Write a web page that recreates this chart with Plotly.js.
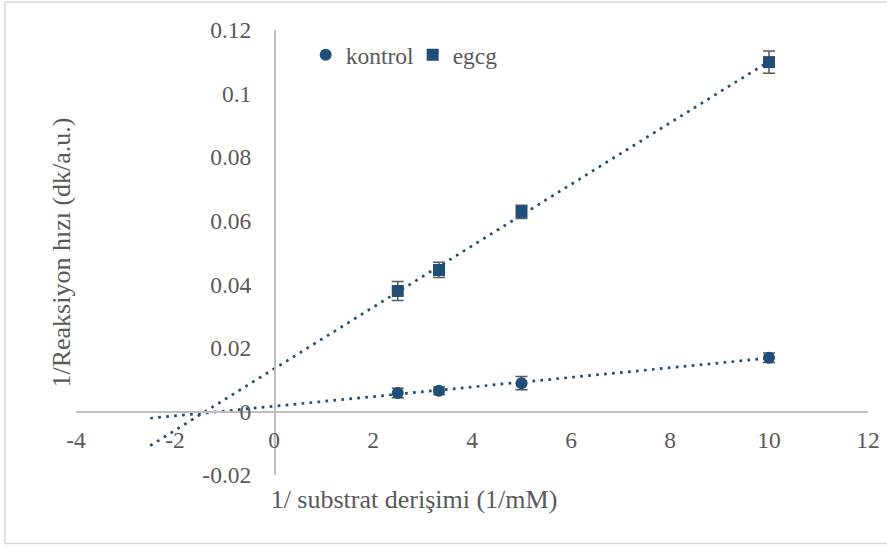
<!DOCTYPE html>
<html>
<head>
<meta charset="utf-8">
<script src="https://cdn.plot.ly/plotly-3.0.1.min.js"></script>
<style>
  @font-face {
    font-family: 'ChartSerif';
    src: local('Liberation Serif'), local('LiberationSerif'), local('Times New Roman');
    font-weight: normal;
    font-style: normal;
  }
  html, body { margin: 0; padding: 0; background: #ffffff; }
  #chart { width: 887px; height: 546px; font-family: 'ChartSerif', 'Liberation Serif', serif; }
</style>
</head>
<body>
<div id="chart"></div>
<script>
// Lineweaver-Burk: 1/[S] against 1/v, control and EGCG-treated enzyme
const substrateInv = [2.5, 3.333, 5, 10];

const kontrolVals = [0.0058, 0.0065, 0.0089, 0.0169];
const kontrolErr  = [0.0015, 0.0012, 0.0021, 0.0015];

const egcgVals = [0.0379, 0.0445, 0.0628, 0.1099];
const egcgErr  = [0.0030, 0.0024, 0.0021, 0.0035];

const xTickVals = [-4, -2, 0, 2, 4, 6, 8, 10, 12];
const xTickText = ['-4', '-2', '0', '2', '4', '6', '8', '10', '12'];
const yTickVals = [-0.02, 0, 0.02, 0.04, 0.06, 0.08, 0.1, 0.12];
const yTickText = ['-0.02', '0', '0.02', '0.04', '0.06', '0.08', '0.1', '0.12'];

const seriesNames = ['kontrol', 'egcg'];
const xTitle = '1/ substrat derişimi (1/mM)';
const yTitle = '1/Reaksiyon hızı (dk/a.u.)';

// linear trendline extended backwards by this many x units
const backwardForecast = 5;

const BLUE = '#1F4E79';
const TEXT = '#595959';
const AXIS = '#BFBFBF';
const FONT = 'ChartSerif, "Liberation Serif", serif';

function linearFit(xs, ys) {
  const n = xs.length;
  const mx = xs.reduce((a, b) => a + b, 0) / n;
  const my = ys.reduce((a, b) => a + b, 0) / n;
  let sxy = 0, sxx = 0;
  for (let i = 0; i < n; i++) {
    sxy += (xs[i] - mx) * (ys[i] - my);
    sxx += (xs[i] - mx) * (xs[i] - mx);
  }
  const slope = sxy / sxx;
  return { slope: slope, intercept: my - slope * mx };
}

function trendTrace(xs, ys) {
  const fit = linearFit(xs, ys);
  const x0 = Math.min(...xs) - backwardForecast;
  const x1 = Math.max(...xs);
  return {
    x: [x0, x1],
    y: [fit.intercept + fit.slope * x0, fit.intercept + fit.slope * x1],
    mode: 'lines',
    line: { color: BLUE, width: 2.7, dash: '2.7px,5.3px' },
    showlegend: false,
    hoverinfo: 'skip'
  };
}

function pointTrace(name, ys, err, symbol) {
  return {
    x: substrateInv,
    y: ys,
    name: name,
    mode: 'markers',
    marker: { color: BLUE, size: 12, symbol: symbol, line: { width: 0 } },
    error_y: { type: 'data', array: err, visible: true, color: TEXT, thickness: 1.5, width: 6 }
  };
}

const data = [
  trendTrace(substrateInv, kontrolVals),
  trendTrace(substrateInv, egcgVals),
  pointTrace(seriesNames[0], kontrolVals, kontrolErr, 'circle'),
  pointTrace(seriesNames[1], egcgVals, egcgErr, 'square')
];

const xRange = [-4, 12];
const yRange = [-0.02, 0.12];

const layout = {
  width: 887,
  height: 546,
  margin: { l: 76, r: 19, t: 30, b: 71 },
  paper_bgcolor: '#ffffff',
  plot_bgcolor: '#ffffff',
  font: { family: FONT, color: TEXT, size: 23.5 },
  showlegend: true,
  xaxis: {
    range: xRange,
    tickvals: xTickVals,
    ticktext: xTickText,
    showgrid: false,
    zeroline: false,
    showline: true,
    linecolor: AXIS,
    linewidth: 1.5,
    // invisible ticks keep the labels a little away from the line
    ticks: 'outside',
    ticklen: 7,
    tickcolor: 'rgba(0,0,0,0)',
    anchor: 'free',
    position: (0 - yRange[0]) / (yRange[1] - yRange[0]),
    tickfont: { family: FONT, color: TEXT, size: 23.5 }
  },
  yaxis: {
    range: yRange,
    tickvals: yTickVals,
    ticktext: yTickText,
    showgrid: false,
    zeroline: false,
    showline: true,
    linecolor: AXIS,
    linewidth: 1.5,
    ticks: 'outside',
    ticklen: 18,
    tickcolor: 'rgba(0,0,0,0)',
    anchor: 'free',
    position: (0 - xRange[0]) / (xRange[1] - xRange[0]),
    tickfont: { family: FONT, color: TEXT, size: 23.5 }
  },
  legend: {
    orientation: 'h',
    x: 0.29,
    y: 0.944,
    xanchor: 'left',
    yanchor: 'middle',
    bgcolor: 'rgba(0,0,0,0)',
    font: { family: FONT, color: TEXT, size: 23.5 },
    itemwidth: 30,
    entrywidth: 62
  },
  annotations: [
    {
      text: xTitle, xref: 'paper', yref: 'paper', x: 0.4268, y: -0.054,
      xanchor: 'center', yanchor: 'middle', showarrow: false,
      font: { family: FONT, color: TEXT, size: 26 }
    },
    {
      text: yTitle, xref: 'paper', yref: 'paper', x: -0.019, y: 0.501,
      xanchor: 'center', yanchor: 'middle', showarrow: false, textangle: -90,
      font: { family: FONT, color: TEXT, size: 26 }
    }
  ],
  shapes: [
    {
      type: 'rect', xref: 'paper', yref: 'paper',
      x0: -0.0896, x1: 1.05, y0: -0.1539, y1: 1.0629,
      line: { color: '#D9D9D9', width: 1.5 }, fillcolor: 'rgba(0,0,0,0)', layer: 'below'
    }
  ]
};

function fixLabelFaces() {
  document.querySelectorAll('#chart svg text').forEach(function (t) {
    t.style.fontFamily = '"Liberation Serif", "Times New Roman", serif';
    getComputedStyle(t).fontFamily;
  });
}

function draw() {
  return Plotly.newPlot('chart', data, layout, { displayModeBar: false, staticPlot: true })
    .then(function () {
      fixLabelFaces();
      requestAnimationFrame(fixLabelFaces);
    });
}

// make sure the serif face is loaded before text gets measured
const fontReady = (document.fonts && document.fonts.load)
  ? Promise.all([
      document.fonts.load('23.5px ChartSerif', 'kontrol 0.12'),
      document.fonts.load('26px "Liberation Serif"', 'Reaksiyon hızı')
    ]).catch(function () {})
  : Promise.resolve();

fontReady.then(draw, draw);
</script>
</body>
</html>
